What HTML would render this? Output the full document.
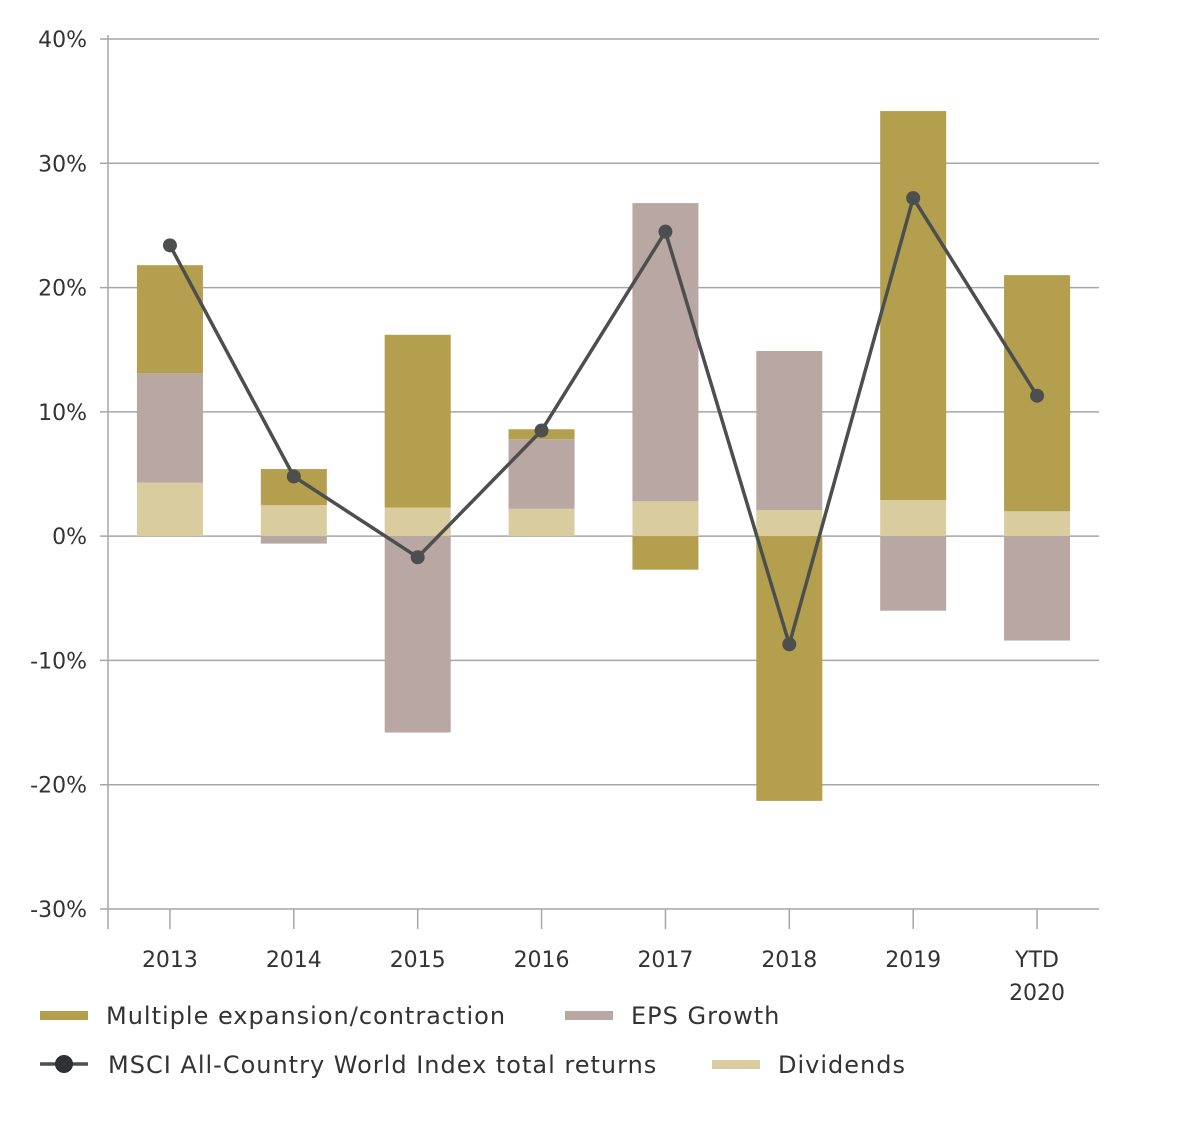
<!DOCTYPE html>
<html><head><meta charset="utf-8"><style>
body{margin:0;background:#fff;font-family:"Liberation Sans","DejaVu Sans",sans-serif;}
svg text{font-family:"DejaVu Sans","Liberation Sans",sans-serif;fill:#333;}
</style></head><body>
<svg id="chart" width="1200" height="1120"></svg>
<script>
const categories=["2013","2014","2015","2016","2017","2018","2019","YTD\n2020"];
const multiple=[8.7,2.9,13.9,0.8,-2.7,-21.3,31.3,19.0];
const eps=[8.8,-0.6,-15.8,5.6,24.0,12.8,-6.0,-8.4];
const dividends=[4.3,2.5,2.3,2.2,2.8,2.1,2.9,2.0];
const totalReturns=[23.4,4.8,-1.7,8.5,24.5,-8.7,27.2,11.3];
const yTicks=[40,30,20,10,0,-10,-20,-30];
const NS="http://www.w3.org/2000/svg";
const svg=document.getElementById('chart');
const L=108,R=1099,T=39,B=909,yMax=40,yMin=-30;
const y=v=>T+(yMax-v)/(yMax-yMin)*(B-T);
const step=(R-L)/categories.length;
const x=i=>L+step*(i+0.5);
function el(tag,attrs,parent){const e=document.createElementNS(NS,tag);for(const k in attrs)e.setAttribute(k,attrs[k]);(parent||svg).appendChild(e);return e;}
yTicks.forEach(t=>{
  const g=el('line',{x1:100,x2:R,y1:y(t),y2:y(t),stroke:'#a6a6a6','stroke-width':1.5});
  
  
  const tx=el('text',{x:87,y:y(t)+8,'text-anchor':'end','font-size':22});
  tx.textContent=t+'%';
  
  
});
const ax=el('line',{x1:L,x2:L,y1:T-4,y2:B+20,stroke:'#a6a6a6','stroke-width':1.5});


const series=[{d:dividends,c:'#d9cd9f',n:'dividends'},{d:eps,c:'#b8a7a3',n:'eps'},{d:multiple,c:'#b39f4d',n:'multiple'}];
categories.forEach((c,i)=>{
  let pos=0,neg=0;const bw=66;
  series.forEach(s=>{
    const v=s.d[i];let a,b;
    if(v>=0){a=pos;b=pos+v;pos=b;}else{a=neg;b=neg+v;neg=b;}
    const r=el('rect',{x:x(i)-bw/2,y:Math.min(y(a),y(b)),width:bw,height:Math.abs(y(a)-y(b)),fill:s.c});
    
    
  });
  const tk=el('line',{x1:x(i),x2:x(i),y1:B,y2:B+20,stroke:'#a6a6a6','stroke-width':1.5});
  
  
  c.split('\n').forEach((ln,j)=>{
    const t=el('text',{x:x(i),y:967+j*33,'text-anchor':'middle','font-size':22});
    t.textContent=ln;
    
    
  });
});
const p=el('polyline',{points:totalReturns.map((v,i)=>x(i)+','+y(v)).join(' '),fill:'none',stroke:'#4d4f4f','stroke-width':3.5});


totalReturns.forEach((v,i)=>{
  const c=el('circle',{cx:x(i),cy:y(v),r:7,fill:'#4d4f4f'});
  
  
});
const leg=[{x:40,y:1015,c:'#b39f4d',t:'Multiple expansion/contraction'},{x:565,y:1015,c:'#b8a7a3',t:'EPS Growth'},{x:40,y:1064,c:'line',t:'MSCI All-Country World Index total returns'},{x:712,y:1064,c:'#d9cd9f',t:'Dividends'}];
leg.forEach(l=>{
  const g=el('g',{});
  
  
  if(l.c==='line'){el('line',{x1:l.x,x2:l.x+48,y1:l.y,y2:l.y,stroke:'#4d4f4f','stroke-width':3.5},g);el('circle',{cx:l.x+24,cy:l.y,r:9,fill:'#2f3133'},g);}
  else el('rect',{x:l.x,y:l.y-4,width:48,height:9,fill:l.c},g);
  const t=el('text',{x:l.x+(l.c==='line'?68:66),y:l.y+9,'font-size':24,'letter-spacing':1},g);
  t.textContent=l.t;
});
</script>
</body></html>
